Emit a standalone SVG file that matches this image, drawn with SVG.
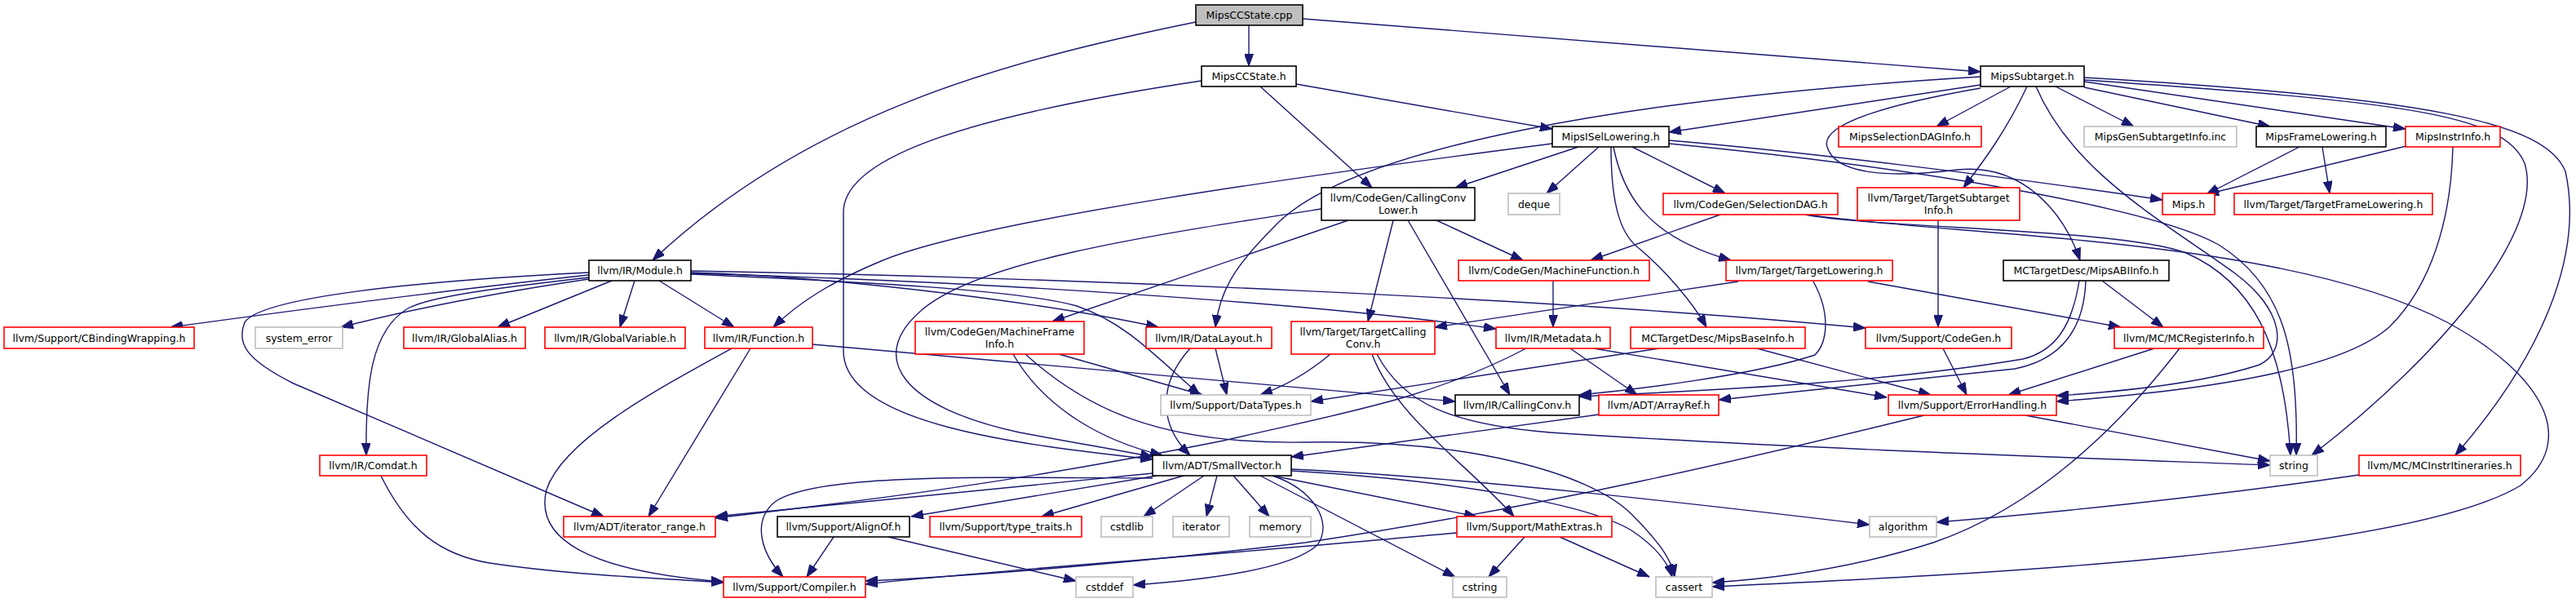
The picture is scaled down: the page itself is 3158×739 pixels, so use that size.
<svg xmlns="http://www.w3.org/2000/svg" width="3158" height="739" viewBox="0 0 3158 739">
<defs>
<marker id="ah" viewBox="0 0 15 11" refX="15" refY="5.5" markerWidth="15" markerHeight="11" markerUnits="userSpaceOnUse" orient="auto">
<path d="M0,0 L15,5.5 L0,11 z" fill="#191970" stroke="#191970" stroke-width="1"/>
</marker>
<style>
.e path{fill:none;stroke:#191970;stroke-width:1.4;marker-end:url(#ah)}
.n rect{stroke-width:1.6}
.root rect{fill:#bfbfbf;stroke:#000}
.b rect{fill:#fff;stroke:#000}
.r rect{fill:#fff;stroke:#ff0000}
.g rect{fill:#fff;stroke:#bfbfbf}
.n text{font-family:"DejaVu Sans","Liberation Sans",sans-serif;font-size:12.5px;fill:#000;text-anchor:middle}
</style>
</defs>
<rect width="3158" height="739" fill="#fff"/>
<g id="edges" class="e">
<path d="M1531,31 L1531,81"/>
<path d="M1466,27 C1230,75 990,140 800,319"/>
<path d="M1597,23 C1900,45 2200,70 2428,88"/>
<path d="M1589,103 L1903,158"/>
<path d="M1545,106 L1682,230"/>
<path d="M1473,99 C1200,140 1034,190 1034,260 L1034,430 C1034,520 1250,545 1413,563"/>
<path d="M2428,104 L2046,162"/>
<path d="M2465,106 L2374,155"/>
<path d="M2520,106 L2616,155"/>
<path d="M2555,107 L2783,155"/>
<path d="M2555,100 L2949,158"/>
<path d="M2485,106 C2460,160 2430,200 2407,230"/>
<path d="M2428,94 C2000,120 1650,180 1560,280 C1510,330 1495,360 1490,401"/>
<path d="M2428,108 C2330,125 2230,150 2240,180 C2250,215 2320,218 2400,208 C2480,200 2530,260 2550,319"/>
<path d="M2555,95 C2980,120 3120,150 3145,210 C3165,300 3130,420 3010,558"/>
<path d="M2555,98 C2950,125 3070,140 3095,200 C3120,280 3000,430 2834,558"/>
<path d="M2496,106 C2540,210 2650,270 2740,335 C2800,380 2805,430 2770,447 C2700,470 2600,480 2521,485"/>
<path d="M1935,180 L1784,230"/>
<path d="M1960,180 L1896,237"/>
<path d="M2001,180 L2115,237"/>
<path d="M1975,180 C1975,260 1990,290 2010,305 C2040,330 2075,370 2092,401"/>
<path d="M1978,180 C1990,240 2020,290 2122,319"/>
<path d="M1903,176 C1600,215 1200,270 1080,320 C1020,345 980,370 948,401"/>
<path d="M2046,172 C2200,185 2450,215 2651,245"/>
<path d="M2046,176 C2350,205 2640,255 2720,300 C2800,350 2818,430 2815,558"/>
<path d="M2109,263 L1950,319"/>
<path d="M2213,263 C2300,280 2600,280 2680,310 C2760,345 2800,420 2808,558"/>
<path d="M2215,263 C2400,290 2800,290 3000,395 C3120,460 3160,540 3090,595 C2950,680 2400,705 2099,719"/>
<path d="M2376,270 L2376,401"/>
<path d="M2382,427 L2411,484"/>
<path d="M2950,179 L2705,238"/>
<path d="M3007,180 C3005,270 2980,350 2930,400 C2880,445 2750,475 2521,492"/>
<path d="M2819,180 L2705,238"/>
<path d="M2847,180 L2856,237"/>
<path d="M722,337 C600,350 400,375 209,401"/>
<path d="M722,334 C500,345 320,365 300,395 C290,420 300,440 360,470 L740,633"/>
<path d="M722,340 C620,352 530,362 500,378 C455,405 448,470 449,558"/>
<path d="M722,342 C600,360 500,380 418,401"/>
<path d="M750,344 L610,401"/>
<path d="M778,344 L760,401"/>
<path d="M808,344 L900,401"/>
<path d="M847,334 C1050,340 1300,375 1420,401"/>
<path d="M847,336 C1050,345 1250,355 1320,375 C1380,395 1420,440 1471,484"/>
<path d="M847,335 C1200,345 1600,370 1834,403"/>
<path d="M847,332 C1300,340 1900,365 2287,402"/>
<path d="M920,427 L795,633"/>
<path d="M897,427 C800,480 690,540 670,600 C655,660 720,700 887,713"/>
<path d="M996,422 L1784,492"/>
<path d="M467,583 C500,650 540,680 600,690 C700,705 800,708 887,714"/>
<path d="M1620,256 C1400,290 1200,320 1130,380 C1060,440 1110,500 1250,530 C1330,545 1380,553 1413,560"/>
<path d="M1653,270 L1290,394"/>
<path d="M1761,270 L1867,319"/>
<path d="M1708,270 L1677,394"/>
<path d="M1726,270 L1851,484"/>
<path d="M1904,344 L1904,401"/>
<path d="M1242,434 C1280,500 1350,540 1425,558"/>
<path d="M1298,434 L1474,484"/>
<path d="M1257,434 C1330,500 1420,545 1600,542 C1800,538 1950,580 2000,630 C2040,670 2050,690 2053,707"/>
<path d="M1490,427 L1504,484"/>
<path d="M1459,427 C1420,470 1420,520 1459,558"/>
<path d="M1631,434 C1600,460 1570,475 1545,484"/>
<path d="M1682,434 C1710,510 1800,570 1856,633"/>
<path d="M1688,434 C1720,495 1780,520 1900,530 C2200,550 2600,563 2783,570"/>
<path d="M1925,427 L2007,484"/>
<path d="M1954,427 L2313,487"/>
<path d="M1871,427 C1750,490 1650,505 1500,540 C1200,600 1000,620 877,635"/>
<path d="M2034,427 L1607,492"/>
<path d="M2154,427 L2367,484"/>
<path d="M2131,345 L1759,401"/>
<path d="M2223,345 C2245,385 2240,420 2225,435 C2150,460 2000,478 1936,484"/>
<path d="M2290,345 L2600,401"/>
<path d="M2549,344 C2540,400 2520,430 2480,440 C2300,470 2100,478 1936,486"/>
<path d="M2557,344 C2555,400 2530,440 2470,452 C2300,470 2200,480 2107,490"/>
<path d="M2577,344 L2652,401"/>
<path d="M1960,508 L1583,560"/>
<path d="M2483,509 L2783,565"/>
<path d="M2359,509 C2150,560 1900,620 1600,665 C1350,695 1150,708 1061,712"/>
<path d="M1786,653 C1500,680 1200,700 1061,716"/>
<path d="M1869,658 L1825,707"/>
<path d="M1912,658 L2022,707"/>
<path d="M2641,427 L2462,484"/>
<path d="M2672,427 C2600,520 2500,620 2370,665 C2260,700 2160,710 2099,714"/>
<path d="M2892,582 C2700,610 2500,630 2374,640"/>
<path d="M1413,580 C1200,600 1000,620 877,633"/>
<path d="M1418,583 L1117,633"/>
<path d="M1451,583 L1277,633"/>
<path d="M1476,583 L1402,633"/>
<path d="M1492,583 L1479,633"/>
<path d="M1512,583 L1556,633"/>
<path d="M1560,583 L1810,633"/>
<path d="M1545,583 L1784,707"/>
<path d="M1583,577 C1800,590 1950,620 2000,650 C2030,670 2045,690 2050,707"/>
<path d="M1583,575 C1800,585 2100,620 2292,643"/>
<path d="M1413,586 C1200,585 1000,580 950,615 C920,640 935,680 960,707"/>
<path d="M1560,583 C1610,600 1635,640 1615,668 C1580,700 1460,712 1389,717"/>
<path d="M1022,658 L989,707"/>
<path d="M1089,658 L1319,712"/>
</g>
<g id="n_cpp" class="n root"><rect x="1466" y="6" width="131" height="25"/><text x="1531.5" y="23">MipsCCState.cpp</text></g>
<g id="n_ccstate" class="n b"><rect x="1473" y="81" width="116" height="25"/><text x="1531" y="98">MipsCCState.h</text></g>
<g id="n_subtarget" class="n b"><rect x="2428" y="81" width="127" height="25"/><text x="2491.5" y="98">MipsSubtarget.h</text></g>
<g id="n_isel" class="n b"><rect x="1903" y="155" width="143" height="25"/><text x="1974.5" y="172">MipsISelLowering.h</text></g>
<g id="n_seldaginfo" class="n r"><rect x="2254" y="155" width="175" height="25"/><text x="2341.5" y="172">MipsSelectionDAGInfo.h</text></g>
<g id="n_gensub" class="n g"><rect x="2555" y="155" width="187" height="25"/><text x="2648.5" y="172">MipsGenSubtargetInfo.inc</text></g>
<g id="n_framelow" class="n b"><rect x="2766" y="155" width="159" height="25"/><text x="2845.5" y="172">MipsFrameLowering.h</text></g>
<g id="n_instrinfo" class="n r"><rect x="2949" y="155" width="116" height="25"/><text x="3007" y="172">MipsInstrInfo.h</text></g>
<g id="n_ccl" class="n b"><rect x="1620" y="230" width="188" height="40"/><text x="1714" y="246.5">llvm/CodeGen/CallingConv</text><text x="1714" y="261.5">Lower.h</text></g>
<g id="n_deque" class="n g"><rect x="1849" y="237" width="63" height="26"/><text x="1880.5" y="254.5">deque</text></g>
<g id="n_seldag" class="n r"><rect x="2039" y="237" width="214" height="26"/><text x="2146" y="254.5">llvm/CodeGen/SelectionDAG.h</text></g>
<g id="n_tsi" class="n r"><rect x="2277" y="230" width="199" height="40"/><text x="2376.5" y="246.5">llvm/Target/TargetSubtarget</text><text x="2376.5" y="261.5">Info.h</text></g>
<g id="n_mips" class="n r"><rect x="2651" y="237" width="64" height="26"/><text x="2683" y="254.5">Mips.h</text></g>
<g id="n_tfl" class="n r"><rect x="2739" y="237" width="243" height="26"/><text x="2860.5" y="254.5">llvm/Target/TargetFrameLowering.h</text></g>
<g id="n_module" class="n b"><rect x="722" y="319" width="125" height="25"/><text x="784.5" y="336">llvm/IR/Module.h</text></g>
<g id="n_mf" class="n r"><rect x="1788" y="319" width="234" height="25"/><text x="1905" y="336">llvm/CodeGen/MachineFunction.h</text></g>
<g id="n_tl" class="n r"><rect x="2116" y="319" width="204" height="25"/><text x="2218" y="336">llvm/Target/TargetLowering.h</text></g>
<g id="n_abi" class="n b"><rect x="2456" y="319" width="203" height="25"/><text x="2557.5" y="336">MCTargetDesc/MipsABIInfo.h</text></g>
<g id="n_cbw" class="n r"><rect x="5" y="401" width="233" height="26"/><text x="121.5" y="418.5">llvm/Support/CBindingWrapping.h</text></g>
<g id="n_syserr" class="n g"><rect x="313" y="401" width="107" height="26"/><text x="366.5" y="418.5">system_error</text></g>
<g id="n_galias" class="n r"><rect x="495" y="401" width="149" height="26"/><text x="569.5" y="418.5">llvm/IR/GlobalAlias.h</text></g>
<g id="n_gvar" class="n r"><rect x="668" y="401" width="172" height="26"/><text x="754" y="418.5">llvm/IR/GlobalVariable.h</text></g>
<g id="n_func" class="n r"><rect x="864" y="401" width="132" height="26"/><text x="930" y="418.5">llvm/IR/Function.h</text></g>
<g id="n_mfi" class="n r"><rect x="1122" y="394" width="207" height="40"/><text x="1225.5" y="410.5">llvm/CodeGen/MachineFrame</text><text x="1225.5" y="425.5">Info.h</text></g>
<g id="n_dl" class="n r"><rect x="1405" y="401" width="154" height="26"/><text x="1482" y="418.5">llvm/IR/DataLayout.h</text></g>
<g id="n_tcc" class="n r"><rect x="1583" y="394" width="176" height="40"/><text x="1671" y="410.5">llvm/Target/TargetCalling</text><text x="1671" y="425.5">Conv.h</text></g>
<g id="n_md" class="n r"><rect x="1834" y="401" width="140" height="26"/><text x="1904" y="418.5">llvm/IR/Metadata.h</text></g>
<g id="n_mbi" class="n r"><rect x="1999" y="401" width="214" height="26"/><text x="2106" y="418.5">MCTargetDesc/MipsBaseInfo.h</text></g>
<g id="n_cg" class="n r"><rect x="2287" y="401" width="179" height="26"/><text x="2376.5" y="418.5">llvm/Support/CodeGen.h</text></g>
<g id="n_mcri" class="n r"><rect x="2592" y="401" width="183" height="26"/><text x="2683.5" y="418.5">llvm/MC/MCRegisterInfo.h</text></g>
<g id="n_dt" class="n g"><rect x="1423" y="484" width="184" height="25"/><text x="1515" y="501">llvm/Support/DataTypes.h</text></g>
<g id="n_cc" class="n b"><rect x="1784" y="484" width="152" height="25"/><text x="1860" y="501">llvm/IR/CallingConv.h</text></g>
<g id="n_ar" class="n r"><rect x="1960" y="484" width="147" height="25"/><text x="2033.5" y="501">llvm/ADT/ArrayRef.h</text></g>
<g id="n_eh" class="n r"><rect x="2315" y="484" width="206" height="25"/><text x="2418" y="501">llvm/Support/ErrorHandling.h</text></g>
<g id="n_comdat" class="n r"><rect x="392" y="558" width="131" height="25"/><text x="457.5" y="575">llvm/IR/Comdat.h</text></g>
<g id="n_sv" class="n b"><rect x="1413" y="558" width="170" height="25"/><text x="1498" y="575">llvm/ADT/SmallVector.h</text></g>
<g id="n_string" class="n g"><rect x="2783" y="558" width="58" height="25"/><text x="2812" y="575">string</text></g>
<g id="n_mcii" class="n r"><rect x="2892" y="558" width="198" height="25"/><text x="2991" y="575">llvm/MC/MCInstrItineraries.h</text></g>
<g id="n_ir" class="n r"><rect x="691" y="633" width="186" height="25"/><text x="784" y="650">llvm/ADT/iterator_range.h</text></g>
<g id="n_align" class="n b"><rect x="953" y="633" width="162" height="25"/><text x="1034" y="650">llvm/Support/AlignOf.h</text></g>
<g id="n_tt" class="n r"><rect x="1140" y="633" width="186" height="25"/><text x="1233" y="650">llvm/Support/type_traits.h</text></g>
<g id="n_cstdlib" class="n g"><rect x="1350" y="633" width="63" height="25"/><text x="1381.5" y="650">cstdlib</text></g>
<g id="n_iterator" class="n g"><rect x="1438" y="633" width="69" height="25"/><text x="1472.5" y="650">iterator</text></g>
<g id="n_memory" class="n g"><rect x="1532" y="633" width="75" height="25"/><text x="1569.5" y="650">memory</text></g>
<g id="n_me" class="n r"><rect x="1786" y="633" width="190" height="25"/><text x="1881" y="650">llvm/Support/MathExtras.h</text></g>
<g id="n_algo" class="n g"><rect x="2292" y="633" width="82" height="25"/><text x="2333" y="650">algorithm</text></g>
<g id="n_compiler" class="n r"><rect x="887" y="707" width="174" height="25"/><text x="974" y="724">llvm/Support/Compiler.h</text></g>
<g id="n_cstddef" class="n g"><rect x="1319" y="707" width="70" height="25"/><text x="1354" y="724">cstddef</text></g>
<g id="n_cstring" class="n g"><rect x="1781" y="707" width="66" height="25"/><text x="1814" y="724">cstring</text></g>
<g id="n_cassert" class="n g"><rect x="2030" y="707" width="69" height="25"/><text x="2064.5" y="724">cassert</text></g>
</svg>
